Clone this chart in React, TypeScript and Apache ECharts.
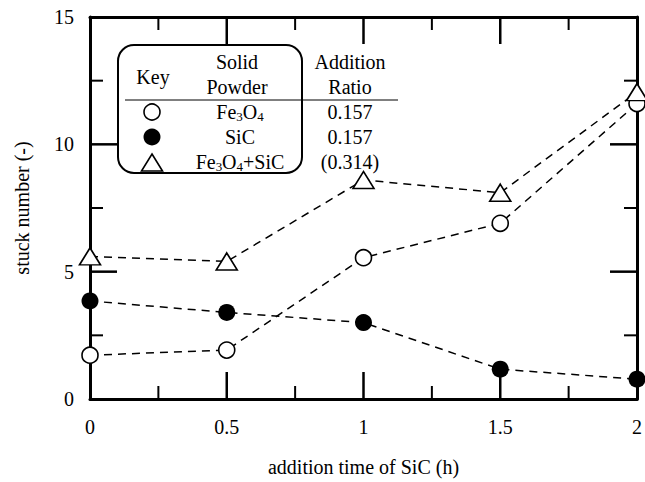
import React, { useEffect, useRef } from "react";
import * as echarts from "echarts";

const xValues = [0, 0.5, 1, 1.5, 2];
const fe3o4 = [1.72, 1.92, 5.55, 6.9, 11.6];
const sic = [3.85, 3.4, 3.0, 1.17, 0.78];
const mixed = [5.6, 5.4, 8.6, 8.1, 12.05];

const xMajorTicks = [0.5, 1, 1.5];
const xMinorTicks = [0.25, 0.75, 1.25, 1.75];
const yMajorTicks = [5, 10];
const yMinorTicks = [2.5, 7.5, 12.5];

const FONT = "Liberation Serif";

function pairs(ys: number[]) {
  return xValues.map((x, i) => [x, ys[i]]);
}

function tickSeries(vals: number[], horizontal: boolean, len: number, width: number) {
  return {
    type: "custom",
    silent: true,
    z: 1,
    data: vals.map((v) => (horizontal ? [v, 0] : [0, v])),
    renderItem: (params: any, api: any) => {
      const cs = params.coordSys;
      const v = horizontal ? api.value(0) : api.value(1);
      const style = { stroke: "#000", lineWidth: width };
      if (horizontal) {
        const px = api.coord([v, 0])[0];
        const b = cs.y + cs.height;
        const t = cs.y;
        return {
          type: "group",
          children: [
            { type: "line", shape: { x1: px, y1: b, x2: px, y2: b - len }, style },
            { type: "line", shape: { x1: px, y1: t, x2: px, y2: t + len }, style },
          ],
        };
      }
      const py = api.coord([0, v])[1];
      const l = cs.x;
      const r = cs.x + cs.width;
      return {
        type: "group",
        children: [
          { type: "line", shape: { x1: l, y1: py, x2: l + len, y2: py }, style },
          { type: "line", shape: { x1: r, y1: py, x2: r - len, y2: py }, style },
        ],
      };
    },
  };
}

export default function App() {
  const ref = useRef<HTMLDivElement>(null);
  useEffect(() => {
    if (!ref.current) return;
    document.body.style.margin = "0";
    const chart = echarts.init(ref.current, undefined, { renderer: "svg" });
    const axisLine = () => ({ show: true, onZero: false, lineStyle: { color: "#000", width: 3 } });
    const lineStyle = () => ({ color: "#000", width: 1.5, type: [8, 6] as any });
    const openItem = () => ({ color: "#fff", borderColor: "#000", borderWidth: 1.6 });
    const txt = (text: string, x: number, y: number, extra: any = {}) => ({
      type: "text",
      z: 10,
      style: {
        text,
        x,
        y,
        fill: "#000",
        font: `20px "${FONT}"`,
        textAlign: "center",
        textVerticalAlign: "middle",
        align: "center",
        verticalAlign: "middle",
        ...extra,
      },
    });
    const richSub = () => ({
      n: { fontSize: 20, fontFamily: FONT, lineHeight: 22, verticalAlign: "middle" },
      s: { fontSize: 13, fontFamily: FONT, lineHeight: 22, verticalAlign: "bottom", padding: [8, 0, 0, 0] },
    });
    chart.setOption({
      animation: false,
      grid: { left: 90, right: 8, top: 17, bottom: 82 },
      xAxis: [
        {
          type: "value",
          min: 0,
          max: 2,
          interval: 0.5,
          axisLine: axisLine(),
          axisTick: { show: false },
          splitLine: { show: false },
          axisLabel: { show: true, color: "#000", fontSize: 20, fontFamily: FONT, margin: 18 },
          name: "addition time of SiC (h)",
          nameLocation: "middle",
          nameGap: 58,
          nameTextStyle: { color: "#000", fontSize: 20, fontFamily: FONT },
        },
        {
          type: "value",
          position: "top",
          min: 0,
          max: 2,
          interval: 0.5,
          axisLine: axisLine(),
          axisTick: { show: false },
          splitLine: { show: false },
          axisLabel: { show: false },
        },
      ],
      yAxis: [
        {
          type: "value",
          min: 0,
          max: 15,
          interval: 5,
          axisLine: axisLine(),
          axisTick: { show: false },
          splitLine: { show: false },
          axisLabel: { show: true, color: "#000", fontSize: 20, fontFamily: FONT, margin: 16 },
          name: "stuck number (-)",
          nameLocation: "middle",
          nameGap: 58,
          nameTextStyle: { color: "#000", fontSize: 20, fontFamily: FONT },
        },
        {
          type: "value",
          position: "right",
          min: 0,
          max: 15,
          interval: 5,
          axisLine: axisLine(),
          axisTick: { show: false },
          splitLine: { show: false },
          axisLabel: { show: false },
        },
      ],
      series: [
        tickSeries(xMajorTicks, true, 27, 2.5),
        tickSeries(xMinorTicks, true, 13, 2),
        tickSeries(yMajorTicks, false, 27, 2.5),
        tickSeries(yMinorTicks, false, 13, 2),
        {
          name: "Fe3O4",
          type: "line",
          data: pairs(fe3o4),
          symbol: "circle",
          symbolSize: 16,
          z: 3,
          lineStyle: lineStyle(),
          itemStyle: openItem(),
        },
        {
          name: "SiC",
          type: "line",
          data: pairs(sic),
          symbol: "circle",
          symbolSize: 17,
          z: 3,
          lineStyle: lineStyle(),
          itemStyle: { color: "#000", borderColor: "#000", borderWidth: 0 },
        },
        {
          name: "Fe3O4+SiC",
          type: "line",
          data: pairs(mixed),
          symbol: "triangle",
          symbolSize: [21, 17],
          z: 3,
          lineStyle: lineStyle(),
          itemStyle: openItem(),
        },
      ],
      graphic: [
        {
          type: "rect",
          z: 5,
          shape: { x: 118, y: 45, width: 184, height: 128, r: 16 },
          style: { fill: "#fff", stroke: "#000", lineWidth: 2 },
        },
        {
          type: "line",
          z: 6,
          shape: { x1: 125, y1: 100, x2: 398, y2: 100 },
          style: { stroke: "#000", lineWidth: 1 },
        },
        txt("Key", 153, 77),
        txt("Solid", 237, 62),
        txt("Powder", 237, 87),
        txt("Addition", 350, 62),
        txt("Ratio", 350, 87),
        {
          type: "circle",
          z: 10,
          shape: { cx: 152, cy: 112, r: 8 },
          style: { fill: "#fff", stroke: "#000", lineWidth: 1.6 },
        },
        {
          type: "circle",
          z: 10,
          shape: { cx: 152, cy: 137, r: 8.5 },
          style: { fill: "#000", stroke: "#000", lineWidth: 0 },
        },
        {
          type: "polygon",
          z: 10,
          shape: { points: [[152, 154], [162.5, 171], [141.5, 171]] },
          style: { fill: "#fff", stroke: "#000", lineWidth: 1.6 },
        },
        txt("{n|Fe}{s|3}{n|O}{s|4}", 240, 112, { rich: richSub() }),
        txt("SiC", 240, 137),
        txt("{n|Fe}{s|3}{n|O}{s|4}{n|+SiC}", 240, 162, { rich: richSub() }),
        txt("0.157", 350, 112),
        txt("0.157", 350, 137),
        txt("(0.314)", 350, 162),
      ],
    });
    return () => chart.dispose();
  }, []);
  return <div ref={ref} style={{ width: 645, height: 482 }} />;
}
